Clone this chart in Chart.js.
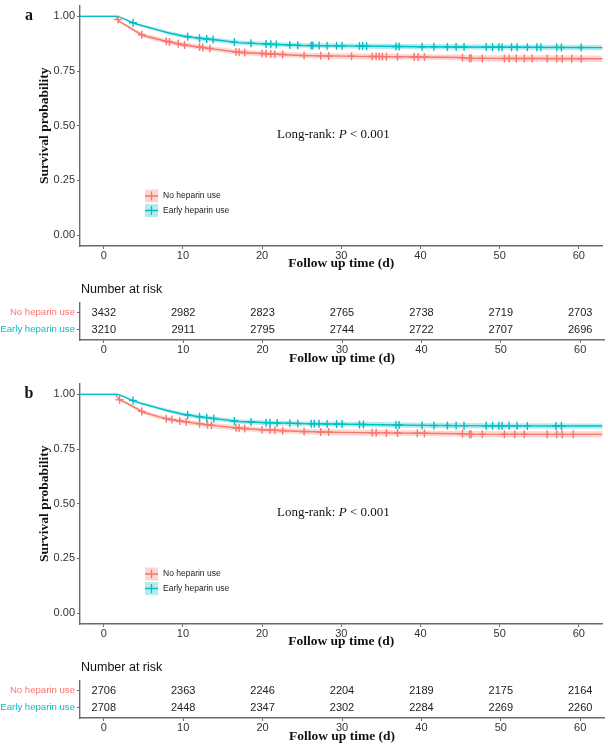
<!DOCTYPE html>
<html>
<head>
<meta charset="utf-8">
<title>Survival curves - heparin use</title>
<script src="https://cdn.jsdelivr.net/npm/chart.js"></script>
<style>
    body { margin: 0; background: #fff; }
    #wrap { position: relative; width: 608px; height: 749px; overflow: hidden; background: #fff; }
    #wrap canvas { position: absolute; left: 0; }
</style>
</head>
<body>
<div id="wrap">
    <canvas id="plotA" width="608" height="272" style="top:0px"></canvas>
    <canvas id="tableA" width="608" height="100" style="top:272px"></canvas>
    <canvas id="plotB" width="608" height="272" style="top:378px"></canvas>
    <canvas id="tableB" width="608" height="100" style="top:650px"></canvas>
</div>

<script>
// ---- data ----
var groups = ["No heparin use", "Early heparin use"];
var riskTimes = [0, 10, 20, 30, 40, 50, 60];
var yTicks = [0, 0.25, 0.5, 0.75, 1];

// panel a
var redTimeA  = [-3, 1.5, 2, 3, 4, 5, 6, 7, 8, 10, 12, 14, 17, 20, 25, 30, 35, 40, 45, 46, 55, 63];
var redSurvA  = [1, 1, 0.975, 0.955, 0.932, 0.912, 0.903, 0.894, 0.885, 0.870, 0.860, 0.850, 0.836, 0.830, 0.821, 0.818, 0.816, 0.814, 0.812, 0.808, 0.807, 0.806];
var redLowA   = [1, 1, 0.970, 0.948, 0.924, 0.903, 0.893, 0.884, 0.875, 0.859, 0.849, 0.839, 0.824, 0.818, 0.809, 0.805, 0.803, 0.801, 0.798, 0.794, 0.792, 0.791];
var redHighA  = [1, 1, 0.980, 0.962, 0.940, 0.921, 0.913, 0.904, 0.895, 0.881, 0.871, 0.861, 0.848, 0.842, 0.833, 0.831, 0.829, 0.827, 0.826, 0.822, 0.822, 0.821];
var redCensA  = [1.8, 4.8, 7.9, 8.3, 9.4, 10.2, 12.1, 12.5, 13.4, 16.7, 17.1, 17.8, 20, 20.5, 21.1, 21.6, 22.6,
                 25.3, 27.4, 28.4, 31.3, 33.9, 34.4, 34.8, 35.2, 35.7, 37.1, 39.2, 39.7, 40.5, 45.3, 46.2, 46.4, 47.8,
                 50.6, 51.2, 52.1, 53.1, 54.1, 56.0, 57.2, 57.9, 59.1, 60.3];
var cyanTimeA = [-3, 1.8, 2.5, 3, 4, 5, 6, 7, 8, 10, 11, 12, 14, 17, 20, 25, 30, 35, 40, 50, 63];
var cyanSurvA = [1, 1, 0.99, 0.982, 0.966, 0.956, 0.946, 0.936, 0.926, 0.910, 0.905, 0.900, 0.893, 0.880, 0.874, 0.867, 0.865, 0.863, 0.861, 0.859, 0.857];
var cyanLowA  = [1, 1, 0.987, 0.978, 0.961, 0.950, 0.939, 0.929, 0.918, 0.901, 0.896, 0.890, 0.883, 0.870, 0.863, 0.856, 0.854, 0.851, 0.849, 0.847, 0.845];
var cyanHighA = [1, 1, 0.993, 0.986, 0.971, 0.962, 0.953, 0.943, 0.934, 0.919, 0.914, 0.910, 0.903, 0.890, 0.885, 0.878, 0.876, 0.875, 0.873, 0.871, 0.869];
var cyanCensA = [3.7, 10.6, 12.1, 13, 13.8, 16.5, 18.6, 20.5, 21.1, 21.8, 23.5, 24.5,
                 26.2, 26.4, 27.2, 28.2, 29.4, 30.1, 32.3, 32.7, 33.2, 36.9, 37.3, 40.2, 41.7, 43.4, 44.5, 45.5,
                 48.3, 49.1, 49.9, 50.3, 51.5, 52.2, 53.5, 54.7, 55.2, 57.2, 57.8, 60.3];
var riskNoA    = [3432, 2982, 2823, 2765, 2738, 2719, 2703];
var riskEarlyA = [3210, 2911, 2795, 2744, 2722, 2707, 2696];

// panel b
var redTimeB  = [-3, 1.5, 2, 3, 4, 5, 6, 7, 8, 10, 12, 14, 17, 20, 25, 30, 35, 40, 45, 46, 55, 63];
var redSurvB  = [1, 1, 0.975, 0.958, 0.938, 0.918, 0.907, 0.897, 0.888, 0.876, 0.866, 0.857, 0.846, 0.838, 0.830, 0.826, 0.824, 0.822, 0.820, 0.818, 0.817, 0.817];
var redLowB   = [1, 1, 0.970, 0.951, 0.930, 0.909, 0.897, 0.887, 0.878, 0.865, 0.855, 0.845, 0.834, 0.826, 0.817, 0.813, 0.811, 0.809, 0.806, 0.804, 0.803, 0.803];
var redHighB  = [1, 1, 0.980, 0.965, 0.946, 0.927, 0.917, 0.907, 0.898, 0.887, 0.877, 0.869, 0.858, 0.850, 0.843, 0.839, 0.837, 0.835, 0.834, 0.832, 0.831, 0.831];
var redCensB  = [2.0, 4.8, 7.9, 8.6, 9.6, 10.4, 12.1, 13.1, 13.6, 16.7, 17.1, 17.8, 20, 21, 21.6, 22.6,
                 25.3, 27.4, 28.4, 33.9, 34.4, 35.7, 37.1, 39.6, 40.5, 45.3, 46.2, 46.4, 47.8,
                 50.6, 51.9, 53.1, 56.0, 57.2, 57.9, 59.3];
var cyanTimeB = [-3, 1.8, 2.5, 3, 4, 5, 6, 7, 8, 10, 11, 12, 14, 17, 20, 25, 30, 35, 40, 50, 63];
var cyanSurvB = [1, 1, 0.99, 0.982, 0.967, 0.956, 0.946, 0.936, 0.926, 0.909, 0.903, 0.898, 0.889, 0.876, 0.871, 0.866, 0.864, 0.861, 0.858, 0.856, 0.855];
var cyanLowB  = [1, 1, 0.987, 0.978, 0.962, 0.950, 0.939, 0.929, 0.918, 0.900, 0.894, 0.888, 0.879, 0.866, 0.860, 0.855, 0.853, 0.849, 0.846, 0.844, 0.843];
var cyanHighB = [1, 1, 0.993, 0.986, 0.972, 0.962, 0.953, 0.943, 0.934, 0.918, 0.912, 0.908, 0.899, 0.886, 0.882, 0.877, 0.875, 0.873, 0.870, 0.868, 0.867];
var cyanCensB = [3.7, 10.6, 12.1, 13, 13.9, 16.5, 18.6, 20.5, 21, 21.9, 23.5, 24.5,
                 26.2, 26.6, 27.2, 28.2, 29.4, 30.1, 32.3, 32.8, 36.9, 37.3, 40.2, 41.7, 43.4, 44.5, 45.5,
                 48.3, 49.1, 49.9, 50.3, 51.2, 52.2, 53.5, 57.1, 57.8];
var riskNoB    = [2706, 2363, 2246, 2204, 2189, 2175, 2164];
var riskEarlyB = [2708, 2448, 2347, 2302, 2284, 2269, 2260];

// ---- styling ----
var RED = "#F8766D", CYAN = "#00BFC4";
var RED_FILL = "rgba(248,118,109,0.3)", CYAN_FILL = "rgba(0,191,196,0.3)";
var SANS = '"Liberation Sans", Arial, sans-serif';
var SERIF = '"Liberation Serif", "Times New Roman", serif';
var AXIS = "#6b6b6b";

function pts(t, v) {
    return t.map(function (x, i) { return { x: x, y: v[i] }; });
}

// place each censor mark on the drawn curve
function onCurve(t, s, cens) {
    return cens.map(function (x) {
        var i = 1;
        while (i < t.length - 1 && t[i] < x) i++;
        var f = (x - t[i - 1]) / (t[i] - t[i - 1]);
        return { x: x, y: s[i - 1] + f * (s[i] - s[i - 1]) };
    });
}

function fixBox(w, h) {
    return function (s) {
        if (w) s.width = w;
        if (h) s.height = h;
        s.paddingTop = 0; s.paddingBottom = 0; s.paddingLeft = 0; s.paddingRight = 0;
    };
}

function xScale(titlePadBottom, height) {
    return {
        type: "linear", min: -3, max: 63,
        afterBuildTicks: function (s) { s.ticks = riskTimes.map(function (v) { return { value: v }; }); },
        afterFit: fixBox(0, height),
        ticks: { font: { family: SANS, size: 11 }, color: "#333", padding: 0 },
        grid: { display: true, drawOnChartArea: false, drawTicks: true, tickLength: 3, color: AXIS, lineWidth: 1 },
        border: { display: true, color: AXIS, width: 1.4 },
        title: { display: true, text: "Follow up time (d)", color: "#111",
                 font: { family: SERIF, size: 13.5, weight: "bold" }, padding: { top: 0, bottom: titlePadBottom } }
    };
}

function plotDecor(letter) {
    return {
        id: "decor",
        afterDraw: function (chart) {
            var ctx = chart.ctx;
            ctx.save();
            ctx.fillStyle = "#111";
            ctx.textBaseline = "middle";
            ctx.textAlign = "center";
            ctx.font = "bold 16px " + SERIF;
            ctx.fillText(letter, 29, 16);

            // log-rank text, P in italics
            ctx.textAlign = "left";
            var x = 277;
            [["Long-rank: ", ""], ["P", "italic "], [" < 0.001", ""]].forEach(function (p) {
                ctx.font = p[1] + "13px " + SERIF;
                ctx.fillText(p[0], x, 135);
                x += ctx.measureText(p[0]).width;
            });

            // legend
            [[groups[0], RED, RED_FILL], [groups[1], CYAN, CYAN_FILL]].forEach(function (k, i) {
                var cy = 196 + i * 14.5, x0 = 145;
                ctx.fillStyle = k[2];
                ctx.fillRect(x0, cy - 6.5, 13, 13);
                ctx.strokeStyle = k[1];
                ctx.lineWidth = 1.3;
                ctx.beginPath();
                ctx.moveTo(x0, cy); ctx.lineTo(x0 + 13, cy);
                ctx.moveTo(x0 + 6.5, cy - 4.5); ctx.lineTo(x0 + 6.5, cy + 4.5);
                ctx.stroke();
                ctx.fillStyle = "#222";
                ctx.font = "8.5px " + SANS;
                ctx.fillText(k[0], 163, cy);
            });
            ctx.restore();
        }
    };
}

function makePlot(id, letter, r, c) {
    var datasets = [
        // cyan first so it sits above red
        { data: onCurve(c.t, c.s, c.cens), showLine: false, pointStyle: "cross", pointRadius: 4, pointBorderWidth: 1.4,
          borderColor: CYAN, order: 0 },
        { data: onCurve(r.t, r.s, r.cens), showLine: false, pointStyle: "cross", pointRadius: 4, pointBorderWidth: 1.4,
          borderColor: RED, order: 0 },
        { data: pts(c.t, c.s), borderColor: CYAN, borderWidth: 1.4, pointRadius: 0, fill: false, order: 1 },
        { data: pts(r.t, r.s), borderColor: RED, borderWidth: 1.4, pointRadius: 0, fill: false, order: 1 },
        { data: pts(c.t, c.lo), borderWidth: 0, pointRadius: 0, fill: false, order: 2 },
        { data: pts(c.t, c.hi), borderWidth: 0, pointRadius: 0, fill: "-1", backgroundColor: CYAN_FILL, order: 2 },
        { data: pts(r.t, r.lo), borderWidth: 0, pointRadius: 0, fill: false, order: 3 },
        { data: pts(r.t, r.hi), borderWidth: 0, pointRadius: 0, fill: "-1", backgroundColor: RED_FILL, order: 3 }
    ];
    return new Chart(document.getElementById(id), {
        type: "line",
        data: { datasets: datasets },
        plugins: [plotDecor(letter)],
        options: {
            responsive: false, animation: false, devicePixelRatio: 1, events: [],
            layout: { padding: { left: 0, right: 4, top: 1.8, bottom: 0 } },
            plugins: { legend: { display: false }, tooltip: { enabled: false } },
            elements: { line: { tension: 0 } },
            scales: {
                x: xScale(0, 26),
                y: {
                    type: "linear", min: -0.05, max: 1.05,
                    afterBuildTicks: function (s) { s.ticks = yTicks.map(function (v) { return { value: v }; }); },
                    afterFit: fixBox(80, 0),
                    ticks: { font: { family: SANS, size: 11 }, color: "#333", padding: 2,
                             callback: function (v) { return Number(v).toFixed(2); } },
                    grid: { display: true, drawOnChartArea: false, drawTicks: true, tickLength: 3, color: AXIS, lineWidth: 1 },
                    border: { display: true, color: AXIS, width: 1.4 },
                    title: { display: true, text: "Survival probability", color: "#111",
                             font: { family: SERIF, size: 13.5, weight: "bold" }, padding: { top: 36, bottom: 0 } }
                }
            }
        }
    });
}

var tableText = {
    id: "riskText",
    afterDatasetsDraw: function (chart) {
        var ctx = chart.ctx;
        ctx.save();
        ctx.fillStyle = "#222";
        ctx.textAlign = "center";
        ctx.textBaseline = "middle";
        ctx.font = "11px " + SANS;
        chart.data.datasets.forEach(function (ds, i) {
            chart.getDatasetMeta(i).data.forEach(function (el, j) {
                ctx.fillText(String(ds.counts[j]), el.x, el.y);
            });
        });
        ctx.textAlign = "left";
        ctx.font = "12.5px " + SANS;
        ctx.fillStyle = "#111";
        ctx.fillText("Number at risk", chart.chartArea.left + 1, 18);
        ctx.restore();
    }
};

function makeTable(id, noRisk, earlyRisk) {
    return new Chart(document.getElementById(id), {
        type: "scatter",
        data: {
            datasets: [
                { data: riskTimes.map(function (t) { return { x: t, y: 2 }; }), counts: noRisk, pointRadius: 0 },
                { data: riskTimes.map(function (t) { return { x: t, y: 1 }; }), counts: earlyRisk, pointRadius: 0 }
            ]
        },
        plugins: [tableText],
        options: {
            responsive: false, animation: false, devicePixelRatio: 1, events: [],
            layout: { padding: { left: 0, right: 4, top: 30.5, bottom: 0 } },
            plugins: { legend: { display: false }, tooltip: { enabled: false } },
            scales: {
                x: xScale(4.9, 32),
                y: {
                    type: "linear", min: 0.4, max: 2.6,
                    afterBuildTicks: function (s) { s.ticks = [{ value: 1 }, { value: 2 }]; },
                    afterFit: fixBox(80, 0),
                    ticks: { font: { family: SANS, size: 9.6 }, padding: 2,
                             color: function (ctx) { return ctx.tick && ctx.tick.value === 2 ? RED : CYAN; },
                             callback: function (v) { return v === 2 ? groups[0] : groups[1]; } },
                    grid: { display: true, drawOnChartArea: false, drawTicks: true, tickLength: 3, color: AXIS, lineWidth: 1 },
                    border: { display: true, color: AXIS, width: 1.4 }
                }
            }
        }
    });
}

makePlot("plotA", "a",
    { t: redTimeA, s: redSurvA, lo: redLowA, hi: redHighA, cens: redCensA },
    { t: cyanTimeA, s: cyanSurvA, lo: cyanLowA, hi: cyanHighA, cens: cyanCensA });
makeTable("tableA", riskNoA, riskEarlyA);
makePlot("plotB", "b",
    { t: redTimeB, s: redSurvB, lo: redLowB, hi: redHighB, cens: redCensB },
    { t: cyanTimeB, s: cyanSurvB, lo: cyanLowB, hi: cyanHighB, cens: cyanCensB });
makeTable("tableB", riskNoB, riskEarlyB);
</script>
</body>
</html>
